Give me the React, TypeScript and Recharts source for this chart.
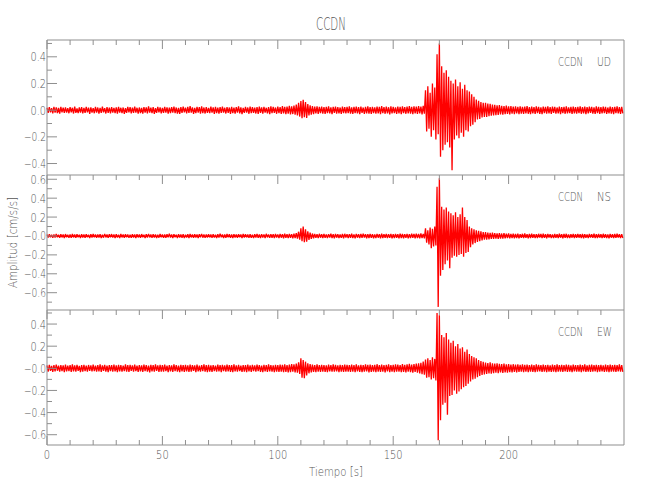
import React from "react";
import { LineChart, Line, XAxis, YAxis } from "recharts";

// peak values per second (thousandths of cm/s/s), upper and lower swing
const udHi = [
  18, 22, 15, 25, 20, 17, 24, 19, 21, 16,
  23, 18, 26, 14, 20, 22, 17, 25, 19, 21,
  16, 24, 20, 18, 27, 15, 22, 19, 23, 17,
  21, 25, 18, 20, 16, 24, 22, 19, 26, 18,
  20, 17, 23, 21, 28, 19, 22, 16, 24, 20,
  18, 25, 21, 19, 23, 27, 20, 17, 22, 26,
  19, 24, 30, 21, 18, 25, 22, 28, 20, 23,
  17, 26, 21, 24, 19, 22, 27, 18, 23, 20,
  25, 19, 22, 28, 21, 17, 24, 20, 26, 22,
  19, 23, 27, 21, 25, 18, 22, 29, 24, 20,
  26, 22, 30, 24, 27, 33, 28, 35, 42, 55,
  68, 77, 60, 45, 36, 30, 26, 29, 24, 27,
  22, 25, 28, 21, 24, 27, 23, 20, 26, 22,
  25, 29, 21, 24, 27, 23, 26, 20, 24, 28,
  22, 25, 21, 27, 24, 30, 23, 26, 22, 28,
  25, 21, 27, 24, 29, 22, 26, 31, 24, 28,
  26, 30, 27, 32, 150, 180, 130, 200, 170, 420,
  500, 330, 280, 300, 250, 220, 200, 230, 180, 210,
  160, 190, 150, 140, 120, 100, 80, 70, 60, 55,
  55, 50, 48, 42, 40, 36, 38, 33, 30, 34,
  28, 31, 26, 29, 25, 28, 24, 27, 30, 23,
  26, 22, 28, 25, 21, 27, 24, 29, 22, 26,
  24, 20, 27, 23, 25, 28, 21, 24, 26, 22,
  25, 29, 22, 26, 23, 27, 24, 21, 28, 25,
  22, 26, 24, 20, 27, 23, 25, 28, 22, 24,
];
const udLo = [
  20, 16, 24, 18, 22, 26, 17, 21, 19, 23,
  17, 25, 20, 22, 18, 24, 21, 16, 27, 19,
  23, 19, 26, 21, 17, 25, 20, 24, 18, 22,
  26, 18, 22, 27, 20, 17, 24, 21, 19, 25,
  22, 26, 19, 24, 18, 23, 27, 21, 17, 24,
  21, 19, 26, 23, 18, 22, 25, 28, 20, 17,
  24, 21, 19, 27, 23, 18, 26, 22, 25, 20,
  23, 19, 28, 22, 26, 20, 18, 25, 21, 27,
  22, 26, 18, 24, 29, 21, 19, 27, 23, 20,
  25, 28, 21, 26, 19, 24, 29, 22, 20, 27,
  23, 28, 25, 30, 26, 32, 29, 34, 40, 48,
  60, 52, 58, 40, 33, 29, 25, 28, 23, 26,
  27, 22, 25, 29, 21, 26, 24, 28, 22, 25,
  23, 26, 28, 22, 25, 30, 21, 27, 24, 26,
  28, 22, 26, 24, 29, 23, 27, 25, 31, 24,
  22, 28, 25, 30, 23, 27, 24, 26, 29, 25,
  28, 25, 31, 27, 160, 140, 200, 150, 220, 180,
  350, 300, 260, 240, 280, 450, 220, 190, 210, 170,
  200, 150, 160, 120, 110, 90, 70, 65, 55, 50,
  50, 46, 42, 40, 37, 35, 32, 34, 30, 28,
  31, 27, 30, 25, 29, 26, 28, 24, 27, 30,
  24, 28, 23, 27, 30, 22, 26, 25, 28, 21,
  26, 24, 29, 22, 27, 25, 23, 28, 24, 26,
  22, 27, 25, 29, 24, 21, 26, 28, 23, 27,
  25, 22, 28, 24, 26, 29, 23, 25, 27, 24,
];

const nsHi = [
  15, 19, 13, 17, 21, 14, 18, 16, 20, 13,
  17, 22, 15, 18, 14, 20, 16, 19, 13, 18,
  21, 15, 17, 19, 14, 22, 16, 18, 20, 15,
  18, 14, 21, 16, 19, 17, 13, 20, 15, 18,
  16, 20, 14, 18, 22, 15, 19, 17, 13, 21,
  17, 15, 19, 23, 16, 18, 14, 20, 17, 19,
  14, 18, 21, 16, 20, 15, 19, 22, 17, 15,
  19, 16, 20, 14, 18, 23, 17, 15, 21, 18,
  16, 20, 17, 19, 15, 22, 18, 16, 20, 14,
  18, 21, 15, 19, 17, 23, 16, 20, 18, 22,
  17, 21, 19, 24, 18, 22, 20, 25, 30, 45,
  80, 100, 70, 50, 35, 26, 22, 19, 23, 18,
  21, 17, 20, 24, 18, 22, 19, 16, 21, 23,
  18, 20, 24, 17, 22, 19, 21, 25, 18, 20,
  23, 19, 17, 22, 20, 24, 18, 21, 19, 23,
  20, 22, 18, 24, 21, 19, 23, 20, 25, 22,
  24, 21, 26, 23, 80, 60, 90, 75, 100, 520,
  610, 310, 280, 300, 260, 240, 220, 250, 200, 230,
  300, 200, 170, 100, 80, 70, 60, 55, 48, 42,
  40, 36, 33, 35, 30, 28, 31, 26, 29, 24,
  27, 22, 25, 21, 24, 20, 23, 26, 19, 22,
  24, 20, 18, 23, 21, 25, 19, 22, 20, 17,
  22, 19, 24, 18, 21, 23, 17, 20, 22, 19,
  21, 18, 23, 20, 17, 22, 19, 24, 18, 21,
  19, 23, 20, 17, 22, 18, 21, 24, 19, 20,
];
const nsLo = [
  17, 14, 20, 16, 13, 19, 15, 21, 14, 18,
  20, 15, 18, 13, 21, 16, 19, 14, 22, 17,
  14, 19, 16, 21, 18, 15, 20, 13, 17, 22,
  16, 21, 15, 19, 14, 20, 18, 16, 22, 15,
  19, 14, 21, 17, 15, 20, 16, 22, 18, 14,
  20, 18, 15, 17, 22, 14, 21, 16, 19, 23,
  17, 21, 15, 19, 16, 22, 14, 18, 20, 16,
  15, 20, 17, 22, 16, 14, 21, 19, 15, 20,
  21, 16, 19, 14, 22, 17, 15, 20, 18, 23,
  16, 19, 22, 17, 21, 15, 20, 18, 23, 17,
  22, 18, 24, 20, 23, 19, 25, 22, 28, 40,
  55, 65, 60, 42, 30, 24, 20, 23, 18, 21,
  19, 23, 17, 21, 25, 18, 22, 20, 24, 17,
  22, 19, 21, 25, 18, 23, 20, 17, 24, 21,
  20, 24, 22, 18, 25, 21, 19, 23, 20, 26,
  23, 19, 25, 21, 24, 20, 26, 22, 19, 24,
  22, 25, 21, 26, 70, 90, 130, 110, 100, 750,
  420, 360, 300, 260, 340, 230, 210, 220, 200, 190,
  220, 180, 170, 120, 90, 75, 62, 55, 46, 40,
  38, 35, 32, 30, 28, 31, 27, 29, 25, 23,
  26, 21, 24, 22, 25, 19, 23, 20, 24, 21,
  19, 23, 21, 18, 22, 20, 24, 17, 21, 23,
  20, 22, 18, 24, 19, 21, 23, 18, 22, 20,
  18, 21, 24, 19, 22, 17, 20, 23, 21, 18,
  22, 19, 21, 24, 18, 22, 20, 17, 23, 21,
];

const ewHi = [
  26, 31, 22, 28, 34, 25, 30, 27, 33, 24,
  29, 35, 26, 31, 23, 28, 32, 25, 30, 27,
  33, 24, 29, 36, 27, 31, 25, 30, 28, 34,
  26, 32, 29, 24, 35, 28, 31, 27, 33, 25,
  30, 27, 34, 29, 25, 32, 28, 36, 26, 31,
  28, 33, 25, 30, 27, 35, 29, 24, 32, 28,
  31, 26, 34, 29, 27, 33, 25, 30, 36, 28,
  32, 27, 30, 25, 34, 29, 31, 26, 33, 28,
  29, 35, 27, 32, 24, 30, 28, 34, 26, 31,
  27, 33, 29, 25, 31, 28, 35, 30, 26, 32,
  29, 34, 31, 36, 30, 33, 38, 35, 42, 55,
  90, 75, 60, 45, 38, 33, 30, 35, 28, 32,
  30, 27, 33, 29, 35, 31, 26, 32, 28, 34,
  31, 28, 34, 30, 36, 27, 32, 29, 35, 31,
  33, 29, 31, 37, 28, 34, 30, 32, 36, 29,
  31, 35, 33, 29, 38, 32, 36, 40, 34, 38,
  42, 45, 50, 60, 80, 90, 75, 100, 85, 500,
  480, 300, 280, 320, 260, 230, 250, 200, 220, 180,
  190, 150, 170, 130, 110, 100, 90, 75, 65, 58,
  52, 48, 55, 45, 42, 46, 40, 38, 42, 36,
  38, 34, 37, 33, 36, 31, 35, 32, 34, 30,
  33, 29, 35, 31, 28, 34, 30, 32, 27, 33,
  30, 35, 28, 32, 29, 34, 31, 27, 33, 30,
  28, 33, 30, 35, 27, 31, 34, 29, 32, 28,
  31, 27, 34, 30, 33, 29, 32, 28, 35, 30,
];
const ewLo = [
  29, 24, 33, 27, 22, 31, 26, 35, 28, 25,
  32, 27, 30, 24, 34, 29, 26, 31, 23, 28,
  25, 30, 27, 33, 24, 29, 35, 26, 31, 28,
  34, 27, 31, 25, 29, 33, 24, 30, 26, 32,
  28, 33, 25, 31, 36, 27, 30, 24, 32, 29,
  31, 26, 34, 28, 32, 25, 30, 35, 27, 33,
  27, 32, 29, 24, 34, 28, 31, 26, 30, 35,
  29, 33, 26, 31, 28, 34, 25, 30, 27, 32,
  35, 28, 31, 26, 33, 29, 34, 27, 32, 25,
  30, 26, 32, 35, 28, 33, 27, 31, 34, 29,
  33, 30, 35, 32, 37, 34, 31, 36, 40, 50,
  85, 90, 65, 45, 36, 32, 34, 29, 33, 30,
  32, 35, 28, 31, 30, 27, 34, 29, 33, 30,
  29, 33, 31, 35, 28, 32, 34, 30, 27, 36,
  32, 30, 35, 29, 33, 31, 36, 28, 34, 30,
  35, 31, 29, 34, 32, 37, 30, 35, 39, 33,
  40, 46, 52, 58, 85, 80, 100, 90, 110, 650,
  470, 330, 310, 420, 250, 240, 200, 230, 210, 190,
  170, 160, 140, 120, 100, 95, 80, 70, 60, 55,
  50, 46, 48, 43, 40, 44, 38, 41, 36, 39,
  35, 37, 32, 36, 33, 30, 34, 31, 35, 29,
  32, 34, 30, 28, 33, 31, 35, 29, 32, 30,
  34, 29, 31, 33, 28, 32, 30, 35, 27, 31,
  30, 34, 28, 32, 29, 33, 31, 27, 34, 30,
  28, 32, 30, 35, 29, 31, 33, 27, 30, 32,
];

const xTicks = [0, 10, 20, 30, 40, 50, 60, 70, 80, 90, 100, 110, 120, 130, 140, 150, 160, 170, 180, 190, 200, 210, 220, 230, 240];
const xLabels = [0, 50, 100, 150, 200];

const udTicks = [-0.4, -0.3, -0.2, -0.1, 0, 0.1, 0.2, 0.3, 0.4, 0.5];
const udLabelVals = [-0.4, -0.2, 0, 0.2, 0.4];
const udLabelText = ["−0.4", "−0.2", "0.0", "0.2", "0.4"];

const nsTicks = [-0.7, -0.6, -0.5, -0.4, -0.3, -0.2, -0.1, 0, 0.1, 0.2, 0.3, 0.4, 0.5, 0.6];
const nsLabelVals = [-0.6, -0.4, -0.2, 0, 0.2, 0.4, 0.6];
const nsLabelText = ["−0.6", "−0.4", "−0.2", "−0.0", "0.2", "0.4", "0.6"];

const ewTicks = [-0.6, -0.5, -0.4, -0.3, -0.2, -0.1, 0, 0.1, 0.2, 0.3, 0.4, 0.5];
const ewLabelVals = [-0.6, -0.4, -0.2, 0, 0.2, 0.4];
const ewLabelText = ["−0.6", "−0.4", "−0.2", "−0.0", "0.2", "0.4"];

const FRAME = "#8f8f8f";
const INK = "#555";
const FONT = "'DejaVu Sans', sans-serif";

function buildTrace(hi: number[], lo: number[]) {
  const out: { t: number; v: number }[] = [];
  for (let i = 0; i < hi.length; i++) {
    out.push({ t: i, v: hi[i] / 1000 });
    out.push({ t: i + 0.5, v: -lo[i] / 1000 });
  }
  return out;
}

// rough width of the narrow plotter font
function narrow(s: string) {
  let w = 0;
  for (const c of s) w += c === "." ? 3 : c === "−" ? 6.5 : 6.3;
  return w;
}

const TopTick = (p: any) => {
  const major = xLabels.includes(p.payload.value);
  return <line x1={p.x} y1={p.y} x2={p.x} y2={p.y + (major ? 9 : 5)} stroke={FRAME} />;
};

const BottomTick = (p: any) => {
  const major = xLabels.includes(p.payload.value);
  const s = String(p.payload.value);
  return (
    <g>
      <line x1={p.x} y1={p.y} x2={p.x} y2={p.y - (major ? 9 : 5)} stroke={FRAME} />
      {major && (
        <text x={p.x} y={p.y + 13.5} textAnchor="middle" fill={INK} fontFamily={FONT} fontWeight={200} fontSize={12.5} textLength={narrow(s)} lengthAdjust="spacingAndGlyphs">
          {s}
        </text>
      )}
    </g>
  );
};

function leftTick(vals: number[], texts: string[]) {
  return (p: any) => {
    const k = vals.indexOf(p.payload.value);
    return (
      <g>
        <line x1={p.x} y1={p.y} x2={p.x + (k >= 0 ? 10 : 5)} y2={p.y} stroke={FRAME} />
        {k >= 0 && (
          <text x={p.x - 1} y={p.y + 4.5} textAnchor="end" fill={INK} fontFamily={FONT} fontWeight={200} fontSize={12.5} textLength={narrow(texts[k])} lengthAdjust="spacingAndGlyphs">
            {texts[k]}
          </text>
        )}
      </g>
    );
  };
}

function rightTick(vals: number[]) {
  return (p: any) => {
    const major = vals.includes(p.payload.value);
    return <line x1={p.x} y1={p.y} x2={p.x - (major ? 10 : 5)} y2={p.y} stroke={FRAME} />;
  };
}

type PanelProps = {
  data: { t: number; v: number }[];
  top: number;
  bottom: number;
  domain: [number, number];
  ticks: number[];
  labelVals: number[];
  labelText: string[];
  last?: boolean;
};

// each axis keeps 1px of room (Recharts skips axes of zero size)
function Panel(props: PanelProps) {
  return (
    <div style={{ position: "absolute", left: 0, top: 0 }}>
      <LineChart width={650} height={500} data={props.data} margin={{ top: props.top - 1, right: 25, bottom: props.last ? props.bottom - 1 : props.bottom, left: 46 }}>
        <XAxis xAxisId="top" orientation="top" dataKey="t" type="number" domain={[0, 250]} ticks={xTicks} interval={0} height={1} tickSize={0} tickMargin={0} tickLine={false} tick={TopTick} axisLine={{ stroke: FRAME }} />
        {props.last && (
          <XAxis xAxisId="bottom" orientation="bottom" dataKey="t" type="number" domain={[0, 250]} ticks={xTicks} interval={0} height={1} tickSize={0} tickMargin={0} tickLine={false} tick={BottomTick} axisLine={{ stroke: FRAME }} />
        )}
        <YAxis yAxisId="left" orientation="left" type="number" domain={props.domain} ticks={props.ticks} interval={0} width={1} tickSize={0} tickMargin={0} tickLine={false} tick={leftTick(props.labelVals, props.labelText)} axisLine={{ stroke: FRAME }} />
        <YAxis yAxisId="right" orientation="right" type="number" domain={props.domain} ticks={props.ticks} interval={0} width={1} tickSize={0} tickMargin={0} tickLine={false} tick={rightTick(props.labelVals)} axisLine={{ stroke: FRAME }} />
        <Line xAxisId="top" yAxisId="left" type="linear" dataKey="v" stroke="#ff0000" strokeWidth={1.3} strokeLinejoin="bevel" dot={false} isAnimationActive={false} />
      </LineChart>
    </div>
  );
}

export default function App() {
  const txt = { fill: INK, fontFamily: FONT, fontWeight: 200 } as const;
  return (
    <div style={{ position: "absolute", left: 0, top: 0, width: 650, height: 500, background: "#fff" }}>
      <Panel data={buildTrace(udHi, udLo)} top={40} bottom={325} domain={[-0.486, 0.526]} ticks={udTicks} labelVals={udLabelVals} labelText={udLabelText} />
      <Panel data={buildTrace(nsHi, nsLo)} top={175} bottom={190} domain={[-0.783, 0.645]} ticks={nsTicks} labelVals={nsLabelVals} labelText={nsLabelText} />
      <Panel data={buildTrace(ewHi, ewLo)} top={310} bottom={55} domain={[-0.693, 0.527]} ticks={ewTicks} labelVals={ewLabelVals} labelText={ewLabelText} last />
      <svg width={650} height={500} style={{ position: "absolute", left: 0, top: 0, pointerEvents: "none" }}>
        <text x={331} y={30} textAnchor="middle" fontSize={18} textLength={30} lengthAdjust="spacingAndGlyphs" {...txt}>CCDN</text>
        <text x={558} y={66} fontSize={12.5} textLength={25} lengthAdjust="spacingAndGlyphs" {...txt}>CCDN</text>
        <text x={597} y={66} fontSize={12.5} textLength={14} lengthAdjust="spacingAndGlyphs" {...txt}>UD</text>
        <text x={558} y={201} fontSize={12.5} textLength={25} lengthAdjust="spacingAndGlyphs" {...txt}>CCDN</text>
        <text x={597} y={201} fontSize={12.5} textLength={14} lengthAdjust="spacingAndGlyphs" {...txt}>NS</text>
        <text x={558} y={336} fontSize={12.5} textLength={25} lengthAdjust="spacingAndGlyphs" {...txt}>CCDN</text>
        <text x={597} y={336} fontSize={12.5} textLength={15} lengthAdjust="spacingAndGlyphs" {...txt}>EW</text>
        <text x={336} y={476} textAnchor="middle" fontSize={13} textLength={54} lengthAdjust="spacingAndGlyphs" {...txt}>Tiempo [s]</text>
        <text transform="translate(16.5,242.5) rotate(-90)" x={0} y={0} textAnchor="middle" fontSize={13} textLength={91} lengthAdjust="spacingAndGlyphs" {...txt}>Amplitud [cm/s/s]</text>
      </svg>
    </div>
  );
}
